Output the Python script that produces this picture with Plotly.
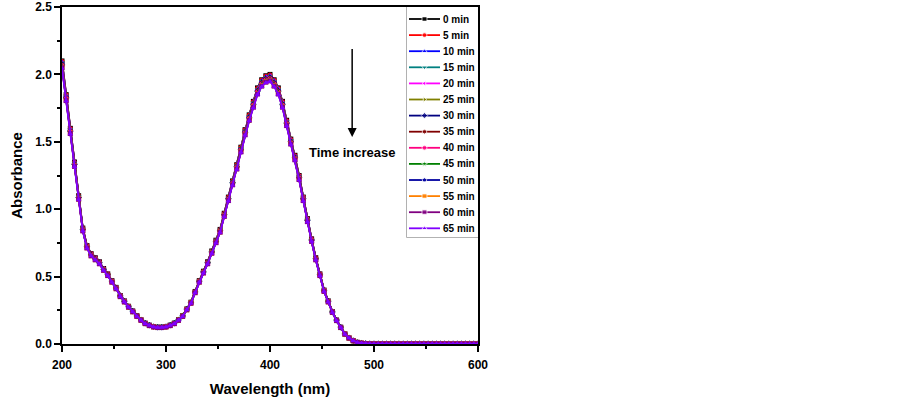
import plotly.graph_objects as go

wavelength = list(range(200, 601, 4))

absorb_0min = [
    2.10, 1.85, 1.60, 1.35, 1.10, 0.86, 0.73, 0.67, 0.64, 0.61,
    0.56, 0.52, 0.47, 0.42, 0.36, 0.32, 0.28, 0.245, 0.21, 0.18,
    0.155, 0.14, 0.13, 0.125, 0.125, 0.13, 0.14, 0.155, 0.18, 0.21,
    0.26, 0.31, 0.39, 0.47, 0.54, 0.61, 0.69, 0.77, 0.85, 0.97,
    1.09, 1.21, 1.33, 1.46, 1.59, 1.70, 1.80, 1.90, 1.96, 1.99,
    2.00, 1.96, 1.90, 1.80, 1.66, 1.52, 1.40, 1.25, 1.09, 0.93,
    0.78, 0.64, 0.52, 0.40, 0.32, 0.24, 0.178, 0.125, 0.075, 0.045,
    0.025, 0.012, 0.006, 0.003, 0.002, 0.001, 0.001, 0.001, 0.001, 0.001,
    0.001, 0.001, 0.001, 0.001, 0.001, 0.001, 0.001, 0.001, 0.001, 0.001,
    0.001, 0.001, 0.001, 0.001, 0.001, 0.001, 0.001, 0.001, 0.001, 0.001,
    0.001,
]

time_labels = ["0 min", "5 min", "10 min", "15 min", "20 min", "25 min", "30 min",
               "35 min", "40 min", "45 min", "50 min", "55 min", "60 min", "65 min"]
scale_factor = [1.000, 0.998, 0.996, 0.994, 0.992, 0.990, 0.988,
                0.986, 0.984, 0.982, 0.980, 0.978, 0.976, 0.974]

colors = ["#000000", "#FF0000", "#0000FF", "#008080", "#FF00FF", "#808000", "#000080",
          "#800000", "#FF0080", "#008000", "#0000A0", "#FF8000", "#800080", "#8000FF"]
symbols = ["square", "circle", "triangle-up", "triangle-down", "triangle-left",
           "triangle-right", "diamond", "hexagon", "circle", "star", "pentagon",
           "square", "square", "triangle-up"]

FONT = "Arial, Liberation Sans, sans-serif"

fig = go.Figure()
for lab, f, c, s in zip(time_labels, scale_factor, colors, symbols):
    fig.add_trace(go.Scatter(
        x=wavelength, y=[v * f for v in absorb_0min], name=lab,
        mode="lines+markers", showlegend=False,
        line=dict(color=c, width=1.8),
        marker=dict(color=c, symbol=s, size=5),
    ))

# custom legend (compact rows) on a hidden overlay axis
for i, (lab, c, s) in enumerate(zip(time_labels, colors, symbols)):
    fig.add_trace(go.Scatter(
        x=[2, 17.5, 33], y=[i, i, i], xaxis="x2", yaxis="y2",
        mode="lines+markers", showlegend=False, hoverinfo="skip",
        line=dict(color=c, width=1.8),
        marker=dict(color=c, symbol=s, size=[0, 5, 0]),
    ))
    fig.add_annotation(x=34.5, y=i, xref="x2", yref="y2", text=lab,
                       xanchor="left", yanchor="middle", showarrow=False,
                       font=dict(family=FONT, size=10, color="black", weight="bold"))

fig.add_shape(type="rect", xref="x2 domain", yref="y2 domain", x0=0, x1=1, y0=0, y1=1,
              line=dict(color="#999999", width=1.5), layer="below")

fig.add_annotation(x=479, y=1.535, ax=479, ay=2.2, xref="x", yref="y",
                   axref="x", ayref="y", text="", showarrow=True,
                   arrowhead=2, arrowsize=1.2, arrowwidth=1.5, arrowcolor="black")
fig.add_annotation(x=479, y=1.42, xref="x", yref="y", text="Time increase",
                   showarrow=False, font=dict(family=FONT, size=13, color="black", weight="bold"))

def axis_common():
    return dict(
        showline=True, linecolor="black", linewidth=1.5, mirror=True,
        ticks="outside", ticklen=6, tickwidth=1.5, tickcolor="black",
        showgrid=False, zeroline=False, automargin=False,
        tickfont=dict(family=FONT, size=12, color="black", weight="bold"),
    )

fig.update_layout(
    width=903, height=400,
    margin=dict(l=62, r=425, t=7, b=56, autoexpand=False),
    plot_bgcolor="white", paper_bgcolor="white",
    showlegend=False,
    xaxis=dict(range=[200, 600], dtick=100, tick0=200, ticklabelstandoff=3,
               minor=dict(dtick=50, ticks="outside", ticklen=3, tickwidth=1.5, tickcolor="black"),
               title=dict(text="Wavelength (nm)", font=dict(family=FONT, size=15, color="black", weight="bold"), standoff=12),
               **axis_common()),
    yaxis=dict(range=[0, 2.5], dtick=0.5, tick0=0, tickformat=".1f",
               minor=dict(dtick=0.25, ticks="outside", ticklen=3, tickwidth=1.5, tickcolor="black"),
               title=dict(text="Absorbance", font=dict(family=FONT, size=15, color="black", weight="bold"), standoff=9),
               **axis_common()),
    xaxis2=dict(domain=[0.8293, 1.0], range=[0, 71], visible=False, anchor="y2"),
    yaxis2=dict(domain=[0.3175, 1.0], range=[13.54, -0.745], visible=False, anchor="x2"),
)

fig.write_html("out.html", config={"displayModeBar": False},
               post_script="document.body.style.margin='0px';")
